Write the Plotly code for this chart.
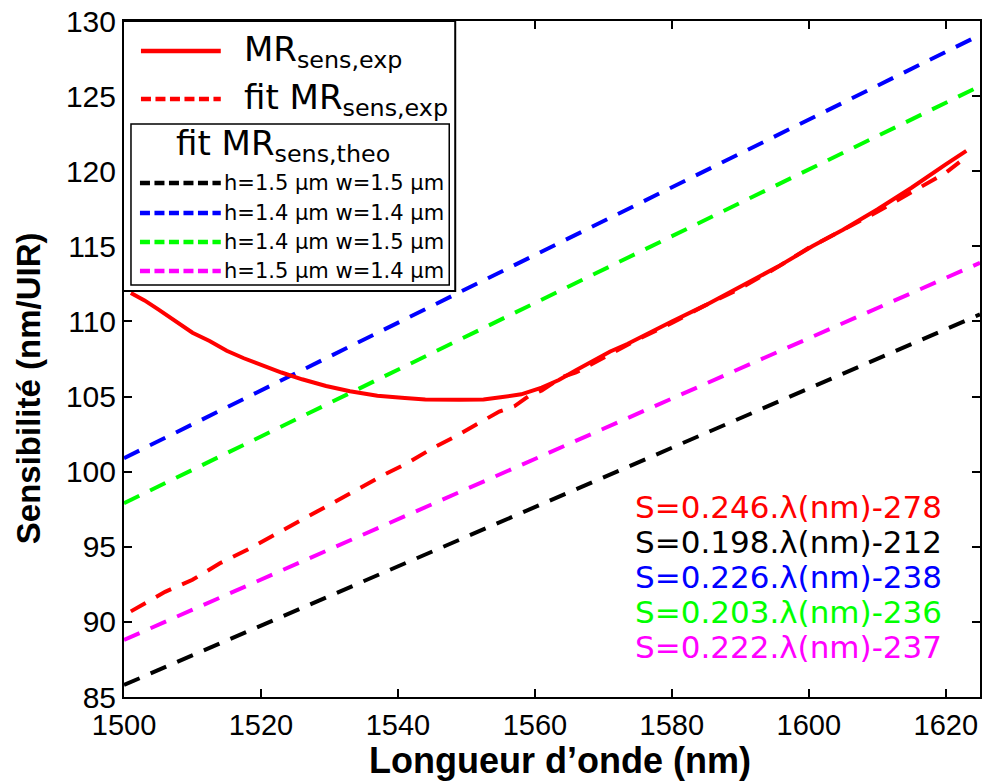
import plotly.graph_objects as go

# ---- data ----
exp_x = [1501, 1503, 1505, 1508, 1510, 1512.5, 1515, 1517.5, 1520, 1523, 1526, 1529.5,
         1533, 1537, 1541, 1544, 1549, 1552.5, 1555, 1558, 1561, 1563.5, 1566, 1568.5,
         1571, 1573.5, 1576, 1580, 1585, 1590, 1595.5, 1600.5, 1605, 1610, 1615, 1620, 1623]
exp_y = [111.9, 111.4, 110.8, 109.85, 109.25, 108.7, 108.05, 107.55, 107.1, 106.6, 106.15, 105.7,
         105.35, 105.05, 104.9, 104.8, 104.78, 104.8, 104.95, 105.15, 105.6, 106.1, 106.75, 107.35,
         108.0, 108.5, 109.1, 110.0, 111.1, 112.3, 113.65, 115.0, 116.1, 117.45, 118.9, 120.45, 121.35]

fit_x = [1501, 1506, 1510, 1514, 1518, 1522, 1525.7, 1530, 1534, 1538, 1541.5, 1545, 1548,
         1551, 1554.8, 1557, 1559, 1561, 1564, 1566, 1570, 1575, 1580, 1585, 1590, 1595,
         1600, 1605, 1610, 1615, 1620, 1622]
fit_y = [90.7, 92.0, 92.8, 93.9, 94.8, 95.8, 96.8, 97.8, 98.8, 99.8, 100.6, 101.55, 102.25,
         103.0, 104.0, 104.35, 105.0, 105.4, 106.3, 106.6, 107.6, 108.8, 109.9, 111.1, 112.2, 113.5,
         114.9, 116.1, 117.3, 118.6, 119.9, 120.6]

theo_x = [1500, 1625]
theo_black = [85.8, 110.47]     # h=1.5 w=1.5
theo_blue = [100.9, 129.07]     # h=1.4 w=1.4
theo_green = [97.9, 125.67]     # h=1.4 w=1.5
theo_magenta = [88.8, 113.9]    # h=1.5 w=1.4

theo_labels = ["h=1.5 µm w=1.5 µm", "h=1.4 µm w=1.4 µm",
               "h=1.4 µm w=1.5 µm", "h=1.5 µm w=1.4 µm"]
eq_texts = ["S=0.246.λ(nm)-278", "S=0.198.λ(nm)-212", "S=0.226.λ(nm)-238",
            "S=0.203.λ(nm)-236", "S=0.222.λ(nm)-237"]

x_ticks = [1500, 1520, 1540, 1560, 1580, 1600, 1620]
y_ticks = [85, 90, 95, 100, 105, 110, 115, 120, 125, 130]

RED, BLACK, BLUE, GREEN, MAGENTA = "#ff0000", "#000000", "#0000ff", "#00ff00", "#ff00ff"
DASH = "17px,12px"
LW = 4

fig = go.Figure()
for ys, col in [(theo_black, BLACK), (theo_blue, BLUE), (theo_green, GREEN), (theo_magenta, MAGENTA)]:
    fig.add_trace(go.Scatter(x=theo_x, y=ys, mode="lines", showlegend=False,
                             line=dict(color=col, width=LW, dash=DASH)))
fig.add_trace(go.Scatter(x=fit_x, y=fit_y, mode="lines", showlegend=False,
                         line=dict(color=RED, width=LW, dash=DASH)))
fig.add_trace(go.Scatter(x=exp_x, y=exp_y, mode="lines", showlegend=False,
                         line=dict(color=RED, width=LW)))

# ---- geometry helpers (pixel -> paper) ----
W, H = 986, 783
L, R, T, B = 124, 982, 21, 697
def px(x):
    return (x - L) / (R - L)
def py(y):
    return (B - y) / (B - T)

# ---- equation annotations ----
eq_colors = [RED, BLACK, BLUE, GREEN, MAGENTA]
eq_rows = [507, 542, 577, 612, 647]
for t, c, yy in zip(eq_texts, eq_colors, eq_rows):
    fig.add_annotation(x=px(634), xref="paper", y=py(yy), yref="paper", text=t, showarrow=False,
                       xanchor="left", yanchor="middle",
                       font=dict(family="DejaVu Sans", size=31, color=c))

# ---- legend (drawn in paper coordinates) ----
shapes = []
shapes.append(dict(type="rect", xref="paper", yref="paper", x0=px(123), x1=px(456), y0=py(291), y1=py(21),
                   line=dict(color="black", width=2), fillcolor="white", layer="above"))
shapes.append(dict(type="rect", xref="paper", yref="paper", x0=px(131), x1=px(450), y0=py(285), y1=py(124),
                   line=dict(color="black", width=1.5), fillcolor="rgba(0,0,0,0)", layer="above"))
shapes.append(dict(type="line", xref="paper", yref="paper", x0=px(141), x1=px(221), y0=py(51), y1=py(51),
                   line=dict(color=RED, width=4.5), layer="above"))
shapes.append(dict(type="line", xref="paper", yref="paper", x0=px(141), x1=px(221), y0=py(99), y1=py(99),
                   line=dict(color=RED, width=4.5, dash="10px,4.5px"), layer="above"))
entry_y = [183, 213, 242, 271]
for yy, c in zip(entry_y, [BLACK, BLUE, GREEN, MAGENTA]):
    shapes.append(dict(type="line", xref="paper", yref="paper", x0=px(140), x1=px(221), y0=py(yy), y1=py(yy),
                       line=dict(color=c, width=4.5, dash="10px,4.5px"), layer="above"))
fig.update_layout(shapes=shapes)

fig.add_annotation(x=px(242), y=py(52), xref="paper", yref="paper", xanchor="left", yanchor="middle",
                   showarrow=False, text="MR<sub>sens,exp</sub>",
                   font=dict(family="DejaVu Sans", size=34, color="black"))
fig.add_annotation(x=px(242), y=py(99), xref="paper", yref="paper", xanchor="left", yanchor="middle",
                   showarrow=False, text="fit MR<sub>sens,exp</sub>",
                   font=dict(family="DejaVu Sans", size=34, color="black"))
fig.add_annotation(x=px(174), y=py(145), xref="paper", yref="paper", xanchor="left", yanchor="middle",
                   showarrow=False, text="fit MR<sub>sens,theo</sub>",
                   font=dict(family="DejaVu Sans", size=34, color="black"))
for yy, t in zip(entry_y, theo_labels):
    fig.add_annotation(x=px(222), y=py(yy), xref="paper", yref="paper", xanchor="left", yanchor="middle",
                       showarrow=False, text=t,
                       font=dict(family="DejaVu Sans", size=21, color="black"))

# ---- axis titles ----
fig.add_annotation(x=px(561), y=py(760), xref="paper", yref="paper", xanchor="center", yanchor="middle",
                   showarrow=False, text="<b>Longueur d’onde (nm)</b>",
                   font=dict(family="Liberation Sans", size=36, color="black"))
fig.add_annotation(x=px(28), y=py(388), xref="paper", yref="paper", xanchor="center", yanchor="middle",
                   showarrow=False, textangle=-90, text="<b>Sensibilité (nm/UIR)</b>",
                   font=dict(family="Liberation Sans", size=33, color="black"))

fig.update_layout(
    width=W, height=H,
    margin=dict(l=L, r=W - R, t=T, b=H - B, pad=0),
    paper_bgcolor="white", plot_bgcolor="white",
    font=dict(family="Liberation Sans", color="black"),
    xaxis=dict(range=[1500, 1625], tickvals=x_ticks, ticks="inside", ticklen=8, tickwidth=1.5,
               tickcolor="black", showline=True, linecolor="black", linewidth=2, mirror="ticks",
               showgrid=False, zeroline=False, tickfont=dict(size=29, family="Liberation Sans"),
               ticklabelstandoff=1),
    yaxis=dict(range=[85, 130], tickvals=y_ticks, ticks="inside", ticklen=8, tickwidth=1.5,
               tickcolor="black", showline=True, linecolor="black", linewidth=2, mirror="ticks",
               showgrid=False, zeroline=False, tickfont=dict(size=30, family="Liberation Sans"),
               ticklabelstandoff=0),
)

fig.write_html("out.html", post_script="document.body.style.margin='0';",
               config={"displayModeBar": False})
